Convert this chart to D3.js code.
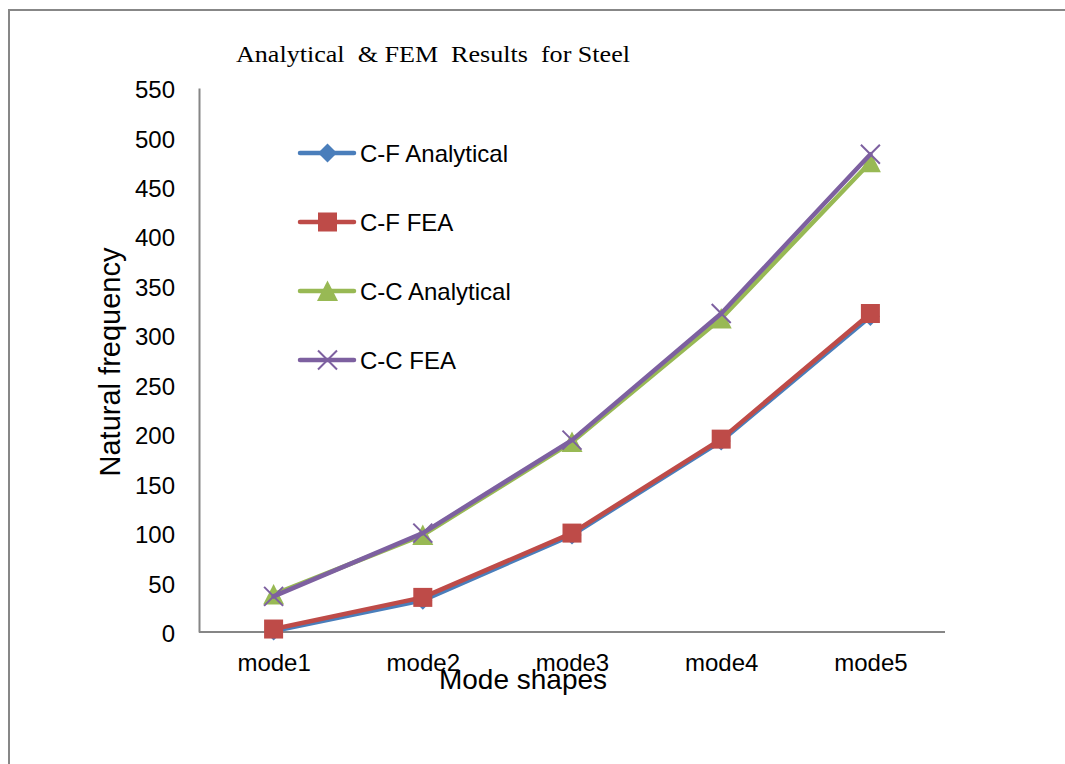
<!DOCTYPE html>
<html>
<head>
<meta charset="utf-8">
<script src="https://cdn.jsdelivr.net/npm/d3@7"></script>
<style>
  html, body { margin: 0; padding: 0; background: #fff; }
  svg { display: block; }
  text { font-family: "Liberation Sans", Arial, sans-serif; fill: #000; }
</style>
</head>
<body>
<svg id="chart" width="1065" height="764"></svg>
<script>
const categories = ["mode1", "mode2", "mode3", "mode4", "mode5"];
const seriesNames = ["C-F Analytical", "C-F FEA", "C-C Analytical", "C-C FEA"];
const cfAnalytical = [1, 32, 98, 193, 319];
const cfFEA = [3, 35, 100, 195, 322];
const ccAnalytical = [38, 98, 192, 317, 475];
const ccFEA = [36, 100, 194, 322, 483];
const yTicks = [0, 50, 100, 150, 200, 250, 300, 350, 400, 450, 500, 550];
const titleText = "Analytical  & FEM  Results  for Steel";
const xTitle = "Mode shapes";
const yTitle = "Natural frequency";

const seriesValues = [cfAnalytical, cfFEA, ccAnalytical, ccFEA];
const colors = ["#4A7EBB", "#BE4B48", "#98B954", "#7D60A0"];
const markers = ["diamond", "square", "triangle", "x"];

const svg = d3.select("#chart");

// outer frame
svg.append("path")
  .attr("d", "M9,770 L9,10 L1070,10")
  .attr("fill", "none").attr("stroke", "#878787").attr("stroke-width", 2);

const x = d3.scalePoint().domain(categories).range([199, 945]).padding(0.5);
const y = d3.scaleLinear().domain([0, 550]).range([632, 88]);

// title
svg.append("text")
  .attr("x", 236).attr("y", 62)
  .attr("xml:space", "preserve")
  .style("font-family", "'Liberation Serif', 'Times New Roman', serif")
  .style("font-size", "24px")
  .attr("textLength", 394).attr("lengthAdjust", "spacingAndGlyphs")
  .text(titleText);

// axes
const yAxis = d3.axisLeft(y).tickValues(yTicks).tickSize(0).tickPadding(24);
const gy = svg.append("g").attr("transform", "translate(199,0)").call(yAxis);
gy.select(".domain").attr("stroke", "#868686").attr("stroke-width", 2);
gy.selectAll("text").style("font-size", "24px")
  .style("font-family", "'Liberation Sans', Arial, sans-serif")
  .attr("dy", "0.40em");

const xAxis = d3.axisBottom(x).tickSize(0).tickPadding(22);
const gx = svg.append("g").attr("transform", "translate(0,632)").call(xAxis);
gx.select(".domain").attr("d", "M199,0H945").attr("stroke", "#868686").attr("stroke-width", 2);
gx.selectAll("text").style("font-size", "24px")
  .style("font-family", "'Liberation Sans', Arial, sans-serif");

// axis titles
svg.append("text")
  .attr("x", 523).attr("y", 689)
  .attr("text-anchor", "middle")
  .style("font-size", "28px")
  .text(xTitle);

svg.append("text")
  .attr("transform", "translate(120,362) rotate(-90)")
  .attr("text-anchor", "middle")
  .style("font-size", "29px")
  .text(yTitle);

function drawMarker(g, type, cx, cy, color) {
  if (type === "diamond") {
    g.append("path").attr("d", `M${cx},${cy-9.5}L${cx+9.5},${cy}L${cx},${cy+9.5}L${cx-9.5},${cy}Z`)
      .attr("fill", color);
  } else if (type === "square") {
    g.append("rect").attr("x", cx - 9.5).attr("y", cy - 9.5).attr("width", 19).attr("height", 19)
      .attr("fill", color);
  } else if (type === "triangle") {
    g.append("path").attr("d", `M${cx},${cy-10.5}L${cx+10.5},${cy+10}L${cx-10.5},${cy+10}Z`)
      .attr("fill", color);
  } else if (type === "x") {
    g.append("path").attr("d", `M${cx-9.5},${cy-9.5}L${cx+9.5},${cy+9.5}M${cx+9.5},${cy-9.5}L${cx-9.5},${cy+9.5}`)
      .attr("stroke", color).attr("stroke-width", 2).attr("fill", "none");
  }
}

const line = d3.line().x((d, i) => x(categories[i])).y(d => y(d));

seriesValues.forEach((vals, s) => {
  const g = svg.append("g");
  g.append("path").datum(vals)
    .attr("d", line)
    .attr("fill", "none")
    .attr("stroke", colors[s])
    .attr("stroke-width", 4.5)
    .attr("stroke-linejoin", "round")
    .attr("stroke-linecap", "round");
  vals.forEach((v, i) => drawMarker(g, markers[s], x(categories[i]), y(v), colors[s]));
});

// legend
const legendY = [153, 222, 291, 360];
seriesNames.forEach((name, s) => {
  const g = svg.append("g");
  const ly = legendY[s];
  g.append("line").attr("x1", 300).attr("x2", 354).attr("y1", ly).attr("y2", ly)
    .attr("stroke", colors[s]).attr("stroke-width", 4.5).attr("stroke-linecap", "round");
  drawMarker(g, markers[s], 327.5, ly, colors[s]);
  g.append("text").attr("x", 360).attr("y", ly + 8.5)
    .style("font-size", "24px")
    .text(name);
});
</script>
</body>
</html>
